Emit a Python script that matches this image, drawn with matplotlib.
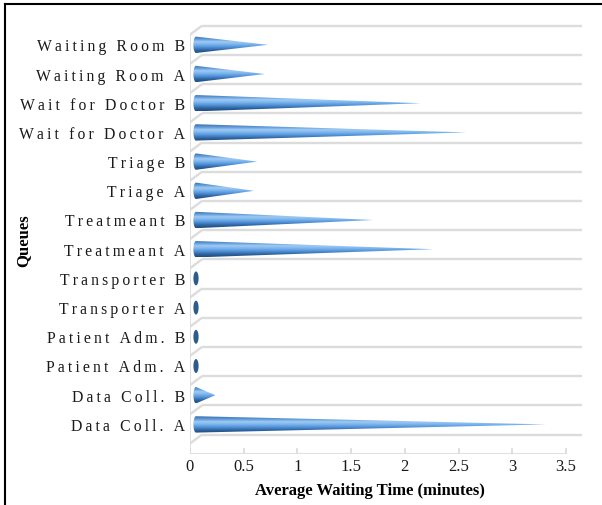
import numpy as np
import matplotlib
matplotlib.use("Agg")
import matplotlib.pyplot as plt
from matplotlib.path import Path
from matplotlib.patches import PathPatch, Ellipse
from matplotlib.colors import LinearSegmentedColormap

# queue names, bottom to top
queues = ["Data Coll. A", "Data Coll. B", "Patient Adm. A", "Patient Adm. B",
          "Transporter A", "Transporter B", "Treatmeant A", "Treatmeant B",
          "Triage A", "Triage B", "Wait for Doctor A", "Wait for Doctor B",
          "Waiting Room A", "Waiting Room B"]
# average waiting time in minutes
wait_time = [3.26, 0.18, 0.0, 0.0, 0.0, 0.0, 2.21, 1.65,
             0.54, 0.57, 2.52, 2.09, 0.64, 0.67]
xticks = [0, 0.5, 1, 1.5, 2, 2.5, 3, 3.5]

W, H = 602, 506
fig = plt.figure(figsize=(W / 100, H / 100), dpi=100)

# pixel geometry of the plot box
px_x0, px_x1 = 190, 582          # front left edge / right end of grid lines
px_per_min = (566 - 190) / 3.5
px_per_cat = 29.2
px_front = 455                   # front floor line
px_back_bottom = 435.5           # bottom back-wall line
px_top = 25
depth_dx, depth_dy = 12, 9       # perspective shift of the back wall

ax = fig.add_axes([px_x0 / W, 1 - px_front / H, (px_x1 - px_x0) / W, (px_front - px_top) / H])
ax.set_xlim(0, (px_x1 - px_x0) / px_per_min)
y_bottom = -0.5 - (px_front - px_back_bottom) / px_per_cat
y_top = y_bottom + (px_front - px_top) / px_per_cat
ax.set_ylim(y_bottom, y_top)
for s in ax.spines.values():
    s.set_visible(False)
ax.set_xticks([])
ax.set_yticks([])

ddx = depth_dx / px_per_min
ddy = depth_dy / px_per_cat
grid_c = "#dcdcdc"

# category separators: slanted on the side wall, flat on the back wall
n = len(queues)
for k in range(n + 1):
    yb = k - 0.5
    ax.plot([0, ddx], [yb - ddy, yb], color=grid_c, lw=1.7, solid_capstyle="butt")
    ax.plot([ddx, ax.get_xlim()[1]], [yb, yb], color=grid_c, lw=1.7, solid_capstyle="butt")
# side wall front edge and floor axis
ax.plot([0, 0], [y_bottom, n - 0.5 - ddy], color=grid_c, lw=1.3)
ax.plot([0, 3.5], [y_bottom, y_bottom], color=grid_c, lw=1.3)
for t in xticks:
    ax.plot([t, t], [y_bottom, y_bottom + 5 / px_per_cat], color=grid_c, lw=1.3)

# cones with a vertical shading gradient
cone_cmap = LinearSegmentedColormap.from_list(
    "cone", ["#1f4d7c", "#2f64a0", "#4f8fd6", "#79b3ec", "#9fcaf4", "#5d97d6", "#3b6fae"])
grad = np.linspace(0, 1, 64).reshape(-1, 1)
half_h = 8.2 / px_per_cat
base_a = 2.6 / px_per_min
x0 = 0.5 * ddx
for i, v in enumerate(wait_time):
    yc = i - 0.5 * ddy
    if v <= 0.02:
        ax.add_patch(Ellipse((x0, yc), 2 * base_a, 2 * half_h * 0.85,
                             facecolor="#2d5c8a", edgecolor="none", zorder=3))
        continue
    t = np.linspace(np.pi / 2, 3 * np.pi / 2, 30)
    verts = list(zip(x0 + base_a * np.cos(t), yc + half_h * np.sin(t)))
    verts.append((x0 + v, yc))
    verts.append(verts[0])
    codes = [Path.MOVETO] + [Path.LINETO] * (len(verts) - 2) + [Path.CLOSEPOLY]
    patch = PathPatch(Path(verts, codes), facecolor="none", edgecolor="none")
    ax.add_patch(patch)
    im = ax.imshow(grad, cmap=cone_cmap, aspect="auto", origin="lower",
                   extent=[x0 - base_a, x0 + v, yc - half_h, yc + half_h],
                   interpolation="bilinear", zorder=3)
    im.set_clip_path(patch)

ax.set_xlim(0, (px_x1 - px_x0) / px_per_min)
ax.set_ylim(y_bottom, y_top)

serif = "Liberation Serif"
thin = "\u2009"
for i, q in enumerate(queues):
    label = thin.join(q)
    ax.text(-5 / px_per_min, i - 0.5 * ddy - 1.5 / px_per_cat, label, ha="right", va="center",
            family=serif, fontsize=11.3, color="#1a1a1a")
for t in xticks:
    ax.text(t, y_bottom - 12 / px_per_cat, f"{t:g}", ha="center", va="center",
            family=serif, fontsize=12, color="#1a1a1a")

fig.text(370 / W, 1 - 491 / H, "Average Waiting Time (minutes)", ha="center", va="center",
         family=serif, fontsize=12, fontweight="bold")
fig.text(23 / W, 1 - 241 / H, "Queues", ha="center", va="center", rotation=90,
         family=serif, fontsize=12, fontweight="bold")

# outer frame
fig.add_artist(plt.Line2D([5 / W, 5 / W], [0, 1 - 5 / H], color="black", lw=1.5))
fig.add_artist(plt.Line2D([5 / W, 1], [1 - 5 / H, 1 - 5 / H], color="black", lw=1.5))

fig.savefig("out.png", dpi=100)
